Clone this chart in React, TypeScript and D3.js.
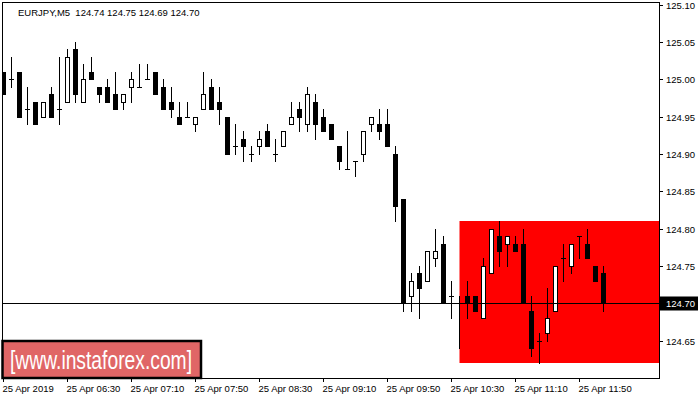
import React from 'react';
import * as d3 from 'd3';

const opens = [125.01,125.00,125.01,124.96,124.97,124.95,124.98,124.96,124.97,125.04,124.97,125.01,124.99,124.99,124.98,124.97,124.99,124.99,125.00,125.01,124.99,124.97,124.95,124.95,124.94,124.96,124.99,124.97,124.95,124.91,124.92,124.90,124.91,124.93,124.90,124.91,124.94,124.96,124.94,124.97,124.95,124.94,124.91,124.88,124.89,124.90,124.94,124.94,124.94,124.90,124.84,124.71,124.74,124.73,124.76,124.78,124.71,124.70,124.71,124.71,124.68,124.74,124.79,124.78,124.78,124.78,124.69,124.65,124.66,124.69,124.76,124.75,124.79,124.78,124.75,124.74];
const highs = [125.01,125.03,125.01,124.99,124.97,124.97,124.99,125.03,125.04,125.05,125.02,125.03,124.99,125.00,125.01,124.98,125.01,125.02,125.02,125.01,125.00,124.99,124.97,124.97,124.95,125.01,125.00,124.99,124.95,124.94,124.93,124.91,124.93,124.94,124.92,124.93,124.97,124.97,124.99,124.98,124.96,124.94,124.91,124.93,124.89,124.93,124.95,124.96,124.96,124.91,124.84,124.74,124.75,124.77,124.80,124.79,124.73,124.71,124.73,124.71,124.76,124.80,124.81,124.79,124.79,124.80,124.71,124.66,124.72,124.75,124.78,124.78,124.79,124.80,124.75,124.75];
const lows = [124.98,124.99,124.95,124.94,124.94,124.95,124.95,124.94,124.97,124.97,124.97,125.00,124.97,124.97,124.96,124.96,124.97,124.99,125.00,124.98,124.96,124.95,124.94,124.95,124.93,124.96,124.96,124.94,124.90,124.90,124.89,124.89,124.90,124.91,124.89,124.91,124.94,124.93,124.93,124.92,124.93,124.92,124.88,124.88,124.87,124.89,124.93,124.92,124.91,124.81,124.69,124.69,124.68,124.73,124.75,124.70,124.68,124.64,124.68,124.69,124.68,124.74,124.75,124.75,124.77,124.70,124.63,124.62,124.65,124.69,124.73,124.74,124.76,124.76,124.73,124.69];
const closes = [124.98,125.00,124.95,124.96,124.94,124.97,124.95,124.96,125.03,124.98,125.00,125.00,124.98,124.97,124.96,124.98,125.00,124.99,125.00,124.98,124.96,124.96,124.94,124.95,124.95,124.98,124.96,124.96,124.90,124.91,124.91,124.90,124.92,124.91,124.90,124.93,124.95,124.95,124.98,124.94,124.93,124.92,124.89,124.88,124.89,124.93,124.95,124.93,124.91,124.83,124.70,124.73,124.72,124.77,124.77,124.70,124.71,124.70,124.70,124.69,124.75,124.80,124.77,124.79,124.77,124.70,124.64,124.65,124.68,124.75,124.76,124.78,124.79,124.76,124.73,124.70];

const timeTickIndex = [0, 8, 16, 24, 32, 40, 48, 56, 64, 72];
const timeTickLabels = ['25 Apr 2019', '25 Apr 06:30', '25 Apr 07:10', '25 Apr 07:50', '25 Apr 08:30', '25 Apr 09:10', '25 Apr 09:50', '25 Apr 10:30', '25 Apr 11:10', '25 Apr 11:50'];
const priceTicks = [124.65, 124.70, 124.75, 124.80, 124.85, 124.90, 124.95, 125.00, 125.05, 125.10];

const titleText = 'EURJPY,M5  124.74 124.75 124.69 124.70';
const currentPrice = 124.70;
const zoneTop = 124.81;
const zoneBottom = 124.62;
const zoneStartIndex = 57;
const watermark = '[www.instaforex.com]';

const W = 700;
const H = 400;
const plotL = 2.5, plotR = 659.5, plotT = 2.5, plotB = 378.5;
const FONT = '"Liberation Sans", Arial, sans-serif';

export default function App() {
  const n = opens.length;
  const x = d3.scaleLinear().domain([0, n - 1]).range([3.5, 3.5 + 8 * (n - 1)]);
  const y = d3.scaleLinear().domain([124.60, 125.10]).range([378, 4.5]);
  const py = (v: number) => Math.round(y(v)) + 0.5;
  const yRaw = (v: number) => Math.round(y(v));

  const candles = d3.range(n).map((i) => {
    const o = opens[i], h = highs[i], l = lows[i], c = closes[i];
    const cx = x(i);
    const wick = <line key={'w' + i} x1={cx} x2={cx} y1={yRaw(h)} y2={yRaw(l) + 1} stroke="#000" strokeWidth={1} />;
    let body;
    if (Math.abs(o - c) < 1e-9) {
      body = <line key={'b' + i} x1={cx - 2.5} x2={cx + 2.5} y1={py(o)} y2={py(o)} stroke="#000" strokeWidth={1} />;
    } else if (c > o) {
      const t = py(c), b = py(o);
      body = <rect key={'b' + i} x={cx - 2} y={t} width={4} height={b - t} fill="#fff" stroke="#000" strokeWidth={1} />;
    } else {
      const t = yRaw(o), b = yRaw(c);
      body = <rect key={'b' + i} x={cx - 2.5} y={t} width={5} height={Math.max(1, b - t + 1)} fill="#000" />;
    }
    return <g key={i}>{wick}{body}</g>;
  });

  const cpY = py(currentPrice);

  return (
    <svg width={W} height={H} style={{ position: 'absolute', left: 0, top: 0, background: '#fff' }} fontFamily={FONT}>
      <defs>
        <clipPath id="plotClip">
          <rect x={plotL} y={plotT} width={plotR - plotL} height={plotB - plotT} />
        </clipPath>
      </defs>
      <rect x={0} y={0} width={W} height={H} fill="#fff" />
      <g clipPath="url(#plotClip)">
        <rect x={x(zoneStartIndex)} y={yRaw(zoneTop)} width={plotR - x(zoneStartIndex)} height={yRaw(zoneBottom) - yRaw(zoneTop)} fill="#ff0000" />
        {candles}
        <line x1={plotL} x2={plotR} y1={cpY} y2={cpY} stroke="#000" strokeWidth={1} />
      </g>
      <rect x={plotL} y={plotT} width={plotR - plotL} height={plotB - plotT} fill="none" stroke="#000" strokeWidth={1} />
      <text x={18} y={15.5} fontSize={9.5} fill="#000" style={{ whiteSpace: 'pre' }}>{titleText}</text>
      {priceTicks.map((t) => (
        <g key={'p' + t}>
          <line x1={plotR} x2={plotR + 3.5} y1={py(t)} y2={py(t)} stroke="#000" strokeWidth={1} />
          <text x={666} y={py(t)} dy="0.35em" fontSize={9.5} fill="#000">{t.toFixed(2)}</text>
        </g>
      ))}
      <rect x={660} y={cpY - 7} width={38} height={14} fill="#000" />
      <text x={666} y={cpY} dy="0.35em" fontSize={9.5} fill="#fff">{currentPrice.toFixed(2)}</text>
      {timeTickIndex.map((ti, k) => (
        <g key={'t' + ti}>
          <line x1={x(ti)} x2={x(ti)} y1={plotB} y2={plotB + 3.5} stroke="#000" strokeWidth={1} />
          <text x={x(ti) - 1} y={392} fontSize={9.5} fill="#000">{timeTickLabels[k]}</text>
        </g>
      ))}
      <rect x={2.5} y={341} width={198.5} height={37} fill="#e06666" stroke="#000" strokeWidth={2.5} />
      <text x={10} y={369} fontSize={26} fill="#fff" textLength={182} lengthAdjust="spacingAndGlyphs">{watermark}</text>
    </svg>
  );
}
